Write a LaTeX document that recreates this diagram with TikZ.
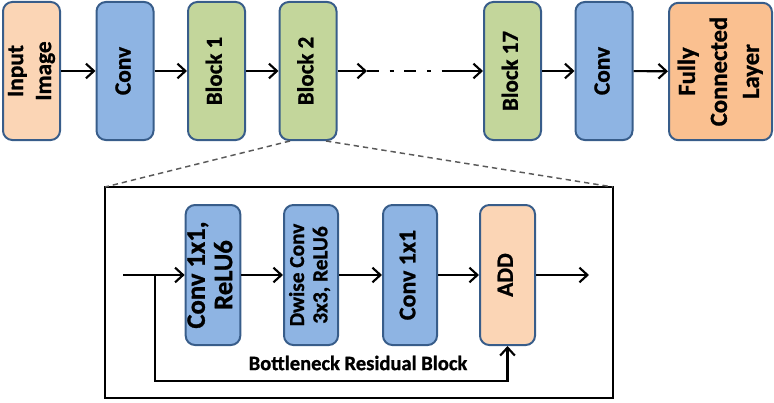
\documentclass[tikz,border=0pt]{standalone}
\usepackage{fontspec}
\setmainfont{Carlito}[BoldFeatures={FakeBold=1}]
\usepackage{graphicx}
\usetikzlibrary{arrows.meta}
\definecolor{peach}{RGB}{251,213,181}
\definecolor{fcorange}{RGB}{250,192,144}
\definecolor{convblue}{RGB}{142,180,227}
\definecolor{blockgreen}{RGB}{195,214,155}
\definecolor{edgeblue}{RGB}{56,93,138}
\newcommand{\vlabel}[1]{\rotatebox{90}{\begin{tabular}{@{}c@{}}#1\end{tabular}}}
\newcommand{\fsz}[2]{\fontsize{#1}{#2}\selectfont}
\tikzset{
	layer/.style={draw=edgeblue, line width=1.5pt, rounded corners=7pt, inner sep=0pt,
		minimum width=42.75pt, minimum height=103.5pt},
	inlayer/.style={layer, minimum width=40.5pt, minimum height=105pt},
	flow/.style={line width=1.6pt, ->},
	zoomline/.style={gray!70!black, line width=1.1pt, dash pattern=on 4pt off 3pt}
}
\begin{document}
\begin{tikzpicture}[x=0.75pt, y=-0.75pt, >={Straight Barb[length=6pt,width=11pt]}]
		\useasboundingbox (0,0) rectangle (774,403);
		% top row
		\node[layer, fill=peach, font=\bfseries\fsz{17.5}{21}] (img) at (31.5,71) {\vlabel{Input\\Image}};
		\node[layer, fill=convblue, font=\bfseries\fsz{17.5}{21}] (conv) at (125,71) {\vlabel{Conv}};
		\node[layer, fill=blockgreen, font=\bfseries\fsz{17.25}{20}] (b1) at (216.5,71) {\vlabel{Block 1}};
		\node[layer, fill=blockgreen, font=\bfseries\fsz{17.25}{20}] (b2) at (308,71) {\vlabel{Block 2}};
		\node[layer, fill=blockgreen, font=\bfseries\fsz{17.25}{20}] (b17) at (512.5,71) {\vlabel{Block 17}};
		\node[layer, fill=convblue, font=\bfseries\fsz{17.5}{21}] (conv2) at (604,71) {\vlabel{Conv}};
		\node[layer, fill=fcorange, minimum width=77.25pt, minimum height=103pt, font=\bfseries\fsz{18.5}{24}] (fc) at (720.5,71.5) {\vlabel{Fully\\Connected\\Layer}};
		\coordinate (dotsa) at (367,71);
		\coordinate (dotsb) at (442,71);
		\draw[flow] (img) -- (conv);
		\draw[flow] (conv) -- (b1);
		\draw[flow] (b1) -- (b2);
		\draw[flow] (b2) -- (dotsa);
		\draw[line width=1.6pt, dash pattern=on 9pt off 8pt on 3pt off 8pt] (dotsa) -- (dotsb);
		\draw[flow] (dotsb) -- (b17);
		\draw[flow] (b17) -- (conv2);
		\draw[flow] (conv2) -- (fc);
		% zoomed block
		\draw[line width=1.8pt] (105,187) coordinate (boxl) rectangle (613,398);
		\coordinate (boxr) at (613,187);
		\draw[zoomline] (290,141) -- (boxl);
		\draw[zoomline] (326,141) -- (boxr);
		\node[inlayer, fill=convblue, font=\bfseries\fsz{20}{20.5}] (c1) at (213,275) {\vlabel{Conv 1x1,\\ReLU6}};
		\node[inlayer, fill=convblue, font=\bfseries\fsz{16}{17.5}] (dw) at (311,275) {\vlabel{Dwise Conv\\3x3, ReLU6}};
		\node[inlayer, fill=convblue, font=\bfseries\fsz{18}{20}] (c3) at (410,275) {\vlabel{Conv 1x1}};
		\node[inlayer, fill=peach, minimum width=41.25pt, font=\bfseries\fsz{17.5}{20}] (add) at (507.5,275) {\vlabel{ADD}};
		\node[font=\bfseries\fsz{15.4}{18}] (bname) at (358,363) {Bottleneck Residual Block};
		\coordinate (bin) at (123,275);
		\coordinate (split) at (155,275);
		\coordinate (skip) at (155,381);
		\coordinate (bout) at (589,275);
		\draw[flow] (bin) -- (c1);
		\draw[flow] (c1) -- (dw);
		\draw[flow] (dw) -- (c3);
		\draw[flow] (c3) -- (add);
		\draw[flow] (add) -- (bout);
		\draw[flow] (split) -- (skip) -| (add.south);
\end{tikzpicture}
\end{document}
